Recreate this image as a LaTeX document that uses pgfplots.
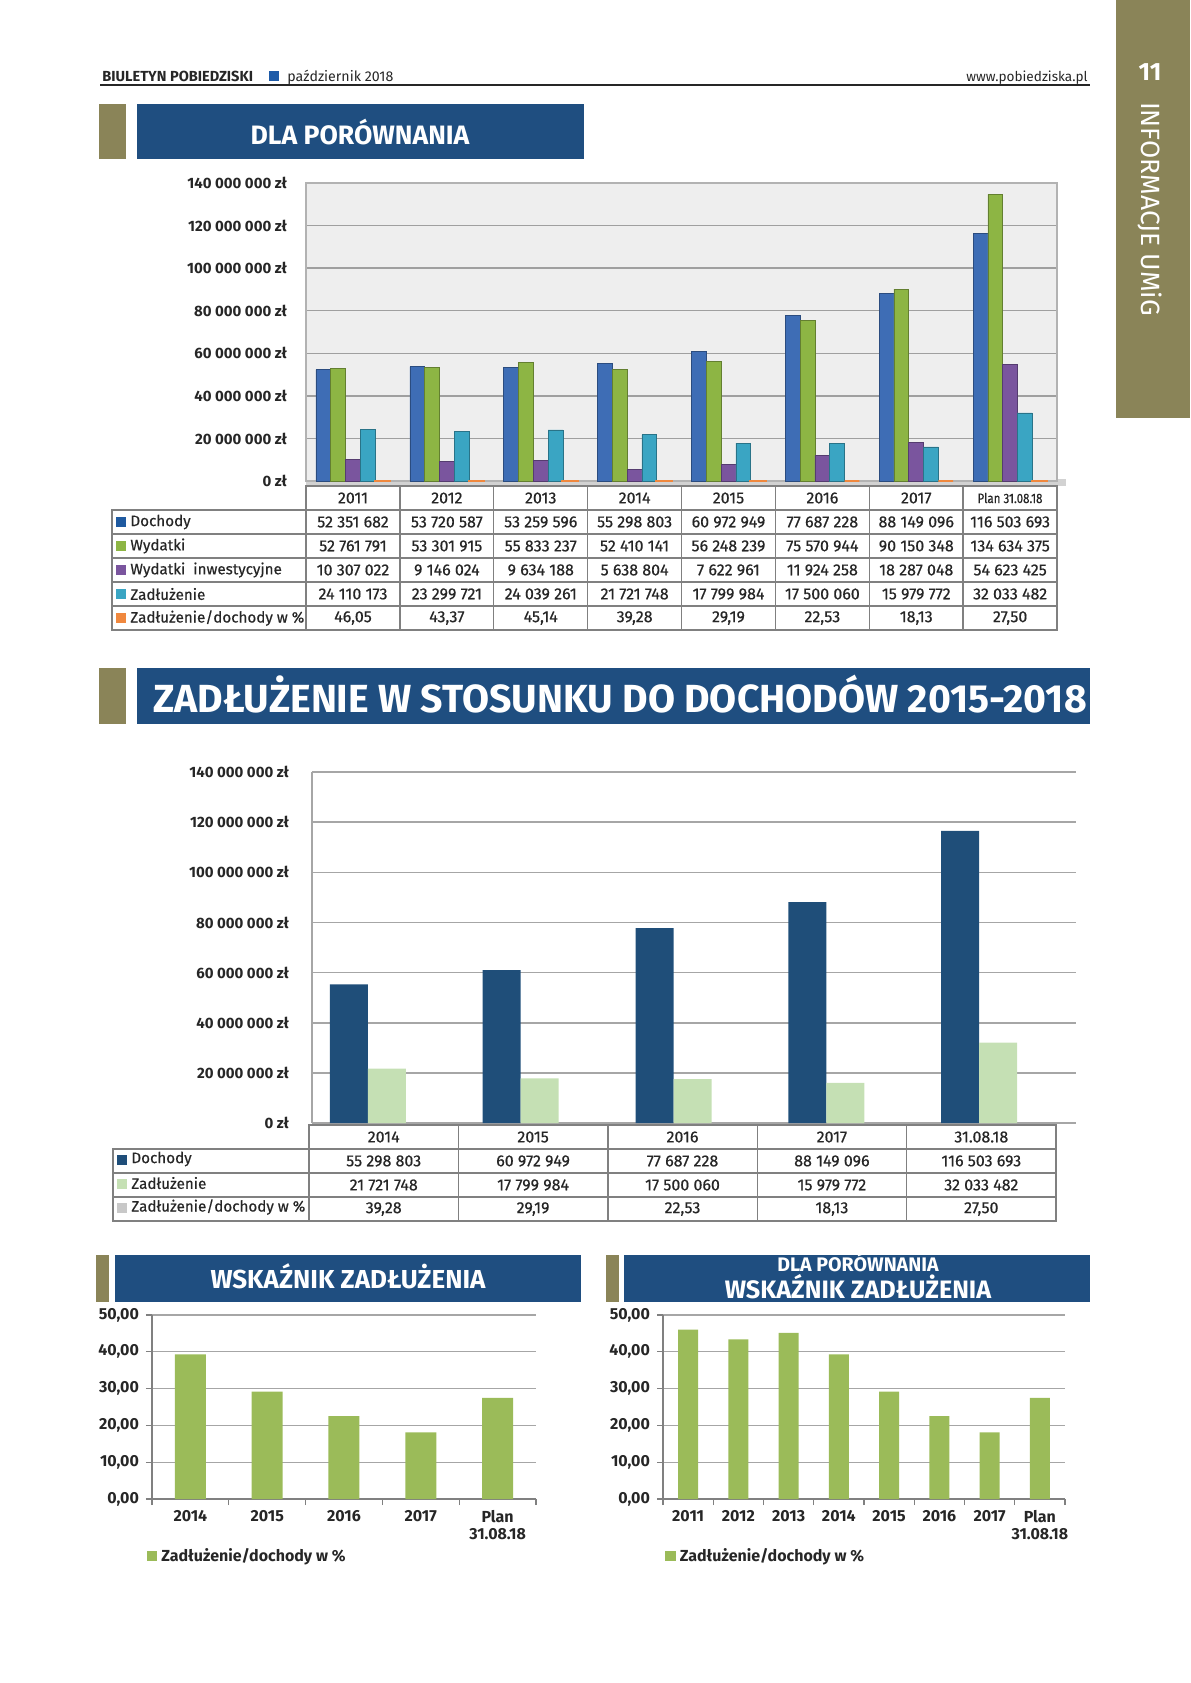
\documentclass[border=0pt]{standalone}
\usepackage{fontspec}
\setmainfont{Fira Sans}
\newfontfamily\medf[FakeBold=0.5]{Fira Sans}
\newfontfamily\planf[FakeBold=0.5,FakeStretch=0.85]{Fira Sans}
\usepackage{pgfplots}
\pgfplotsset{compat=1.18}
\definecolor{olive}{HTML}{8A8458}
\definecolor{titleblue}{HTML}{1F4E80}
\definecolor{hdrblue}{HTML}{1E5BA8}
\definecolor{c1blue}{HTML}{3E6DB5}
\definecolor{c1sq}{HTML}{1F5AA0}
\definecolor{c1green}{HTML}{8DB544}
\definecolor{c1purple}{HTML}{7A559E}
\definecolor{c1cyan}{HTML}{3AA5C3}
\definecolor{c1orange}{HTML}{F0883E}
\definecolor{c2dark}{HTML}{1F4E79}
\definecolor{c2light}{HTML}{C5E0B4}
\definecolor{c2gray}{HTML}{C8C8C8}
\definecolor{c3green}{HTML}{9BBB59}
\definecolor{txt}{HTML}{262626}
\definecolor{tabc}{HTML}{808080}

% table helpers: values, y position
\newcommand\rowone[2]{\foreach \v [count=\i from 0] in {#1}
  \node[text=txt,font=\medf\fontsize{8}{9}\selectfont] at ({353+\i*93.875},#2) {\v};}
\newcommand\rowtwo[2]{\foreach \v [count=\i from 0] in {#1}
  \node[text=txt,font=\medf\fontsize{8}{9}\selectfont] at ({383.7+\i*149.4},#2) {\v};}

\begin{document}
\begin{tikzpicture}
\path[use as bounding box] (0,0) rectangle (595pt,-841.5pt);
\begin{scope}[x=0.5pt,y=-0.5pt]
% sidebar
\fill[olive] (1116,0) rectangle (1190,418);
\node[white,font=\bfseries\fontsize{12.5}{13}\selectfont] at (1150,72) {11};
\node[white,rotate=-90,font=\fontsize{13.2}{14}\selectfont] at (1150,209) {INFORMACJE UMiG};
% header
\node[anchor=base west,inner sep=0,font=\bfseries\fontsize{7.3}{8}\selectfont,text=txt] at (102,81) {BIULETYN POBIEDZISKI};
\fill[hdrblue] (269,71) rectangle (279,81);
\node[anchor=base west,inner sep=0,font=\fontsize{7.1}{8}\selectfont,text=txt] at (287,81) {październik 2018};
\node[anchor=base east,inner sep=0,font=\fontsize{6.8}{8}\selectfont,text=txt] at (1088,81) {www.pobiedziska.pl};
\draw[txt,line width=0.6pt] (100,85) -- (1090,85);
% section titles
\fill[olive] (99,104) rectangle (126,159);
\fill[titleblue] (137,104) rectangle (584,159);
\node[anchor=base,inner sep=0,white,font=\bfseries\fontsize{13.3}{14}\selectfont] at (360,144) {DLA PORÓWNANIA};
\fill[olive] (99,668) rectangle (126,724);
\fill[titleblue] (137,668) rectangle (1090,724);
\node[anchor=base,inner sep=0,white,font=\bfseries\fontsize{19.6}{21}\selectfont] at (620,712) {ZADŁUŻENIE W STOSUNKU DO DOCHODÓW 2015-2018};
\fill[olive] (96,1255) rectangle (109,1302);
\fill[titleblue] (115,1255) rectangle (581,1302);
\node[anchor=base,inner sep=0,white,font=\bfseries\fontsize{13}{14}\selectfont] at (348,1288) {WSKAŹNIK ZADŁUŻENIA};
\fill[olive] (606,1255) rectangle (619,1302);
\fill[titleblue] (624,1255) rectangle (1090,1302);
\node[anchor=base,inner sep=0,white,font=\bfseries\fontsize{9.8}{11}\selectfont] at (858,1271) {DLA PORÓWNANIA};
\node[anchor=base,inner sep=0,white,font=\bfseries\fontsize{12.6}{14}\selectfont] at (858,1298) {WSKAŹNIK ZADŁUŻENIA};

% ---------- table 1 ----------
\fill[gray!35] (306,479) rectangle (1066,486);
\begin{scope}[draw=tabc, line width=0.7pt]
\draw (306,486) rectangle (1057,630);
\draw (112,510) rectangle (306,630);
\foreach \yy in {534,558,582,606} \draw (112,\yy) -- (1057,\yy);
\draw (306,510) -- (1057,510);
\foreach \k in {1,...,7} \draw ({306+\k*93.875},486) -- ({306+\k*93.875},630);
\end{scope}
\rowone{2011,2012,2013,2014,2015,2016,2017}{498}
\node[text=txt,font=\planf\fontsize{6.8}{7}\selectfont] at (1010,498) {Plan 31.08.18};
\rowone{52 351 682,53 720 587,53 259 596,55 298 803,60 972 949,77 687 228,88 149 096,116 503 693}{522}
\rowone{52 761 791,53 301 915,55 833 237,52 410 141,56 248 239,75 570 944,90 150 348,134 634 375}{546}
\rowone{10 307 022,9 146 024,9 634 188,5 638 804,7 622 961,11 924 258,18 287 048,54 623 425}{570}
\rowone{24 110 173,23 299 721,24 039 261,21 721 748,17 799 984,17 500 060,15 979 772,32 033 482}{594}
\rowone{46{,}05,43{,}37,45{,}14,39{,}28,29{,}19,22{,}53,18{,}13,27{,}50}{618}
\foreach \cc/\lab/\yy in {c1sq/Dochody/522,c1green/Wydatki/546,c1purple/Wydatki\ \ inwestycyjne/570,c1cyan/Zadłużenie/594,c1orange/Zadłużenie\slash dochody\ w\ \%/618}{
  \fill[\cc] (116,\yy-5) rectangle (126,\yy+5);
  \node[anchor=west,inner sep=0,text=txt,font=\medf\fontsize{7.6}{8}\selectfont] at (130,\yy) {\lab};
}

% ---------- table 2 ----------
\begin{scope}[draw=tabc, line width=0.7pt]
\draw (309,1125) rectangle (1056,1221);
\draw (113,1149) rectangle (309,1221);
\foreach \yy in {1173,1197} \draw (113,\yy) -- (1056,\yy);
\draw (309,1149) -- (1056,1149);
\foreach \k in {1,...,4} \draw ({309+\k*149.4},1125) -- ({309+\k*149.4},1221);
\end{scope}
\rowtwo{2014,2015,2016,2017,31.08.18}{1137}
\rowtwo{55 298 803,60 972 949,77 687 228,88 149 096,116 503 693}{1161}
\rowtwo{21 721 748,17 799 984,17 500 060,15 979 772,32 033 482}{1185}
\rowtwo{39{,}28,29{,}19,22{,}53,18{,}13,27{,}50}{1209}
\foreach \cc/\lab/\yy in {c2dark/Dochody/1160,c2light/Zadłużenie/1184,c2gray/Zadłużenie\slash dochody\ w\ \%/1208}{
  \fill[\cc] (117,\yy-5) rectangle (127,\yy+5);
  \node[anchor=west,inner sep=0,text=txt,font=\medf\fontsize{7.6}{8}\selectfont] at (131,\yy-1) {\lab};
}
\end{scope}

% ---------- chart 1 ----------
\begin{axis}[at={(153pt,-240.5pt)}, anchor=south west, width=375.5pt, height=149pt, scale only axis,
  xmin=-0.5, xmax=7.5, ymin=0, ymax=140000000, scaled y ticks=false,
  xtick=\empty,
  ytick={0,20000000,40000000,60000000,80000000,100000000,120000000,140000000},
  yticklabels={0 zł,20 000 000 zł,40 000 000 zł,60 000 000 zł,80 000 000 zł,100 000 000 zł,120 000 000 zł,140 000 000 zł},
  yticklabel style={font=\bfseries\fontsize{7.5}{8}\selectfont, text=txt, xshift=-6pt},
  major tick length=0pt,
  ymajorgrids, grid style={gray!75, line width=0.7pt},
  axis line style={gray!60, line width=0.8pt},
  axis background/.style={fill=gray!13},
  ybar=0pt, bar width=7.4pt, clip=false]
\addplot[fill=c1blue, draw=c1blue!70!black, line width=0.3pt] coordinates {(0,52351682) (1,53720587) (2,53259596) (3,55298803) (4,60972949) (5,77687228) (6,88149096) (7,116503693)};
\addplot[fill=c1green, draw=c1green!70!black, line width=0.3pt] coordinates {(0,52761791) (1,53301915) (2,55833237) (3,52410141) (4,56248239) (5,75570944) (6,90150348) (7,134634375)};
\addplot[fill=c1purple, draw=c1purple!70!black, line width=0.3pt] coordinates {(0,10307022) (1,9146024) (2,9634188) (3,5638804) (4,7622961) (5,11924258) (6,18287048) (7,54623425)};
\addplot[fill=c1cyan, draw=c1cyan!70!black, line width=0.3pt] coordinates {(0,24110173) (1,23299721) (2,24039261) (3,21721748) (4,17799984) (5,17500060) (6,15979772) (7,32033482)};
\addplot[fill=c1orange, draw=c1orange, line width=1.4pt] coordinates {(0,46.05) (1,43.37) (2,45.14) (3,39.28) (4,29.19) (5,22.53) (6,18.13) (7,27.50)};
\end{axis}

% ---------- chart 2 ----------
\begin{axis}[at={(156pt,-561.5pt)}, anchor=south west, width=382pt, height=175.5pt, scale only axis,
  xmin=-0.366, xmax=4.634, ymin=0, ymax=140000000, scaled y ticks=false,
  xtick=\empty,
  ytick={0,20000000,40000000,60000000,80000000,100000000,120000000,140000000},
  yticklabels={0 zł,20 000 000 zł,40 000 000 zł,60 000 000 zł,80 000 000 zł,100 000 000 zł,120 000 000 zł,140 000 000 zł},
  yticklabel style={font=\bfseries\fontsize{7.5}{8}\selectfont, text=txt, xshift=-8pt},
  major tick length=0pt,
  axis x line*=bottom, axis y line*=left,
  ymajorgrids, grid style={gray!70, line width=0.8pt},
  axis line style={gray!70, line width=0.8pt},
  ybar=0pt, bar width=19pt]
\addplot[fill=c2dark, draw=none] coordinates {(0,55298803) (1,60972949) (2,77687228) (3,88149096) (4,116503693)};
\addplot[fill=c2light, draw=none] coordinates {(0,21721748) (1,17799984) (2,17500060) (3,15979772) (4,32033482)};
\end{axis}

% ---------- chart 3 ----------
\begin{axis}[at={(76pt,-749.5pt)}, anchor=south west, width=192pt, height=92pt, scale only axis,
  xmin=-0.5, xmax=4.5, ymin=0, ymax=50,
  xtick={-0.5,0.5,1.5,2.5,3.5,4.5}, x tick label as interval,
  xticklabels={2014,2015,2016,2017,{Plan\\31.08.18}},
  xticklabel style={font=\bfseries\fontsize{8}{8.5}\selectfont, text=txt, align=center, anchor=north, yshift=1pt},
  ytick={0,10,20,30,40,50},
  yticklabels={{0,00},{10,00},{20,00},{30,00},{40,00},{50,00}},
  yticklabel style={font=\bfseries\fontsize{8}{8.5}\selectfont, text=txt},
  tick align=outside, major tick length=3pt, tick style={gray, line width=0.6pt},
  axis x line*=bottom, axis y line*=left,
  ymajorgrids, grid style={gray!70, line width=0.6pt},
  axis line style={gray, line width=0.6pt},
  ybar, bar width=15.5pt,
  legend style={at={(-0.03,-0.31)}, anchor=west, draw=none, fill=none, font=\bfseries\fontsize{8}{8.5}\selectfont, text=txt},
  legend image code/.code={\fill[#1] (0pt,-2.6pt) rectangle (5.2pt,2.6pt);}]
\addplot[fill=c3green, draw=none] coordinates {(0,39.28) (1,29.19) (2,22.53) (3,18.13) (4,27.50)};
\addlegendentry{Zadłużenie/dochody w \%}
\end{axis}

% ---------- chart 4 ----------
\begin{axis}[at={(331.5pt,-749.5pt)}, anchor=south west, width=201pt, height=92pt, scale only axis,
  xmin=-0.5, xmax=7.5, ymin=0, ymax=50,
  xtick={-0.5,0.5,1.5,2.5,3.5,4.5,5.5,6.5,7.5}, x tick label as interval,
  xticklabels={2011,2012,2013,2014,2015,2016,2017,{Plan\\31.08.18}},
  xticklabel style={font=\bfseries\fontsize{8}{8.5}\selectfont, text=txt, align=center, anchor=north, yshift=1pt},
  ytick={0,10,20,30,40,50},
  yticklabels={{0,00},{10,00},{20,00},{30,00},{40,00},{50,00}},
  yticklabel style={font=\bfseries\fontsize{8}{8.5}\selectfont, text=txt},
  tick align=outside, major tick length=3pt, tick style={gray, line width=0.6pt},
  axis x line*=bottom, axis y line*=left,
  ymajorgrids, grid style={gray!70, line width=0.6pt},
  axis line style={gray, line width=0.6pt},
  ybar, bar width=10pt,
  legend style={at={(-0.01,-0.31)}, anchor=west, draw=none, fill=none, font=\bfseries\fontsize{8}{8.5}\selectfont, text=txt},
  legend image code/.code={\fill[#1] (0pt,-2.6pt) rectangle (5.2pt,2.6pt);}]
\addplot[fill=c3green, draw=none] coordinates {(0,46.05) (1,43.37) (2,45.14) (3,39.28) (4,29.19) (5,22.53) (6,18.13) (7,27.50)};
\addlegendentry{Zadłużenie/dochody w \%}
\end{axis}
\end{tikzpicture}
\end{document}
